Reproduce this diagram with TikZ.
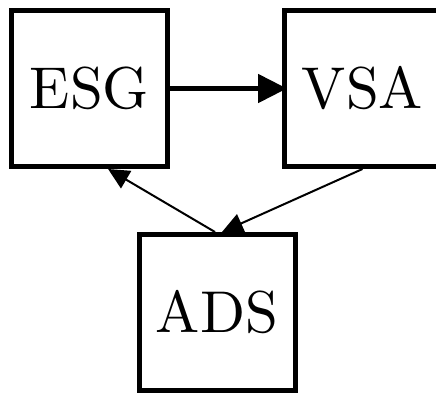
\documentclass[tikz,border=0pt]{standalone}
\usepackage{fontspec}
\usetikzlibrary{arrows.meta,calc}
% the 10pt design of Latin Modern, scaled up, for the box labels
\newfontfamily\labelfont{lmroman10-regular.otf}
\begin{document}
\begin{tikzpicture}[x=1pt,y=1pt,
  blockbox/.style={draw, line width=5pt, minimum size=156pt, inner sep=0pt,
    font=\labelfont\fontsize{59}{59}\selectfont},
  thickarrow/.style={line width=5pt, -{Triangle[length=29pt,width=28pt]}},
  thinarrow/.style={line width=2pt, -{Triangle[length=21pt,width=20pt]}}]
  \useasboundingbox (0,0) rectangle (436,-392);
  \clip (0,0) rectangle (436,-392);
  \node[blockbox] (esg) at (89.5,-88.5) {ESG};
  \node[blockbox] (vsa) at (362.5,-88.5) {VSA};
  \node[blockbox] (ads) at (217,-312.5) {ADS};
  \draw[thickarrow] (esg.east) -- ($(vsa.west)+(5,0)$);
  \draw[thinarrow] ($(ads.north)+(-2,0)$) -- (esg.-77);
  \draw[thinarrow] (vsa.south) -- ($(ads.north)+(5,0)$);
\end{tikzpicture}
\end{document}
